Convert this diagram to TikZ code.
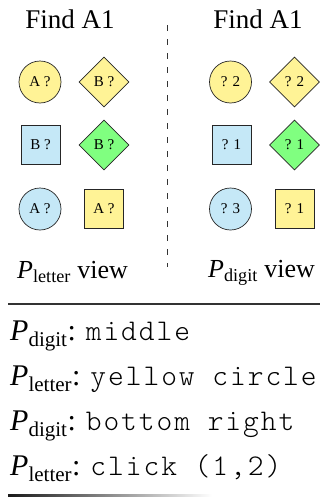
\documentclass[tikz,border=0pt]{standalone}
\usepackage{fontspec}
\setmainfont{Liberation Serif}
\newfontfamily\monof{lmmonolt10-regular}[Extension=.otf, LetterSpace=6.5]
\usetikzlibrary{shapes.geometric}
\definecolor{yel}{RGB}{255,243,150}
\definecolor{blu}{RGB}{197,232,247}
\definecolor{grn}{RGB}{128,255,128}
\newcommand{\Psub}[1]{\textit{P}\textsubscript{#1}}
\newcommand{\mono}[1]{{\monof #1}}
\tikzset{
  shapebase/.style={draw=black!85, line width=0.7pt, inner sep=0pt, font=\fontsize{15}{15}\selectfont},
  circ/.style={shapebase, circle, minimum size=42pt},
  diam/.style={shapebase, diamond, minimum width=50pt, minimum height=50pt},
  sq/.style={shapebase, rectangle, minimum width=39pt, minimum height=39pt},
  title/.style={anchor=base, inner sep=0pt, font=\fontsize{27}{27}\selectfont},
  viewlbl/.style={anchor=base west, inner sep=0pt, font=\fontsize{26}{26}\selectfont},
  msg/.style={anchor=base west, inner sep=0pt, font=\fontsize{30}{30}\selectfont}
}
\begin{document}
\begin{tikzpicture}[x=1pt,y=-1pt]
\useasboundingbox (0,0) rectangle (320,498);
% titles
\node[title] (t1) at (70,28) {Find A1};
\node[title] (t2) at (258,28) {Find A1};
% divider
\coordinate (d1) at (167,25);
\coordinate (d2) at (167,267);
\draw[black!80, line width=0.8pt, dash pattern=on 6pt off 8pt] (d1) -- (d2);
% left panel
\node[circ, fill=yel] (l11) at (40,82) {A ?};
\node[diam, fill=yel] (l12) at (104,82) {B ?};
\node[sq, fill=blu] (l21) at (40.5,145) {B ?};
\node[diam, fill=grn] (l22) at (104,145) {B ?};
\node[circ, fill=blu] (l31) at (40,209) {A ?};
\node[sq, fill=yel] (l32) at (104,208.5) {A ?};
% right panel
\node[circ, fill=yel] (r11) at (230.5,82) {? 2};
\node[diam, fill=yel] (r12) at (294.5,82) {? 2};
\node[sq, fill=blu] (r21) at (231.5,145) {? 1};
\node[diam, fill=grn] (r22) at (294.5,145) {? 1};
\node[circ, fill=blu] (r31) at (230.5,209) {? 3};
\node[sq, fill=yel] (r32) at (294.5,208.5) {? 1};
% view labels
\node[viewlbl] (v1) at (17,278) {\Psub{letter} view};
\node[viewlbl] (v2) at (208,277) {\Psub{digit} view};
% separator
\coordinate (s1) at (8,304);
\coordinate (s2) at (320,304);
\draw[black!80, line width=2pt] (s1) -- (s2);
% messages
\node[msg] (m1) at (10,340) {\Psub{digit}: \mono{middle}};
\node[msg] (m2) at (10,385) {\Psub{letter}: \mono{yellow circle}};
\node[msg] (m3) at (10,430) {\Psub{digit}: \mono{bottom right}};
\node[msg] (m4) at (10,475) {\Psub{letter}: \mono{click (1,2)}};
% fading bottom rule
\shade[left color=black!90, right color=white] (8,494.8) rectangle (212,496.6);
\end{tikzpicture}
\end{document}
